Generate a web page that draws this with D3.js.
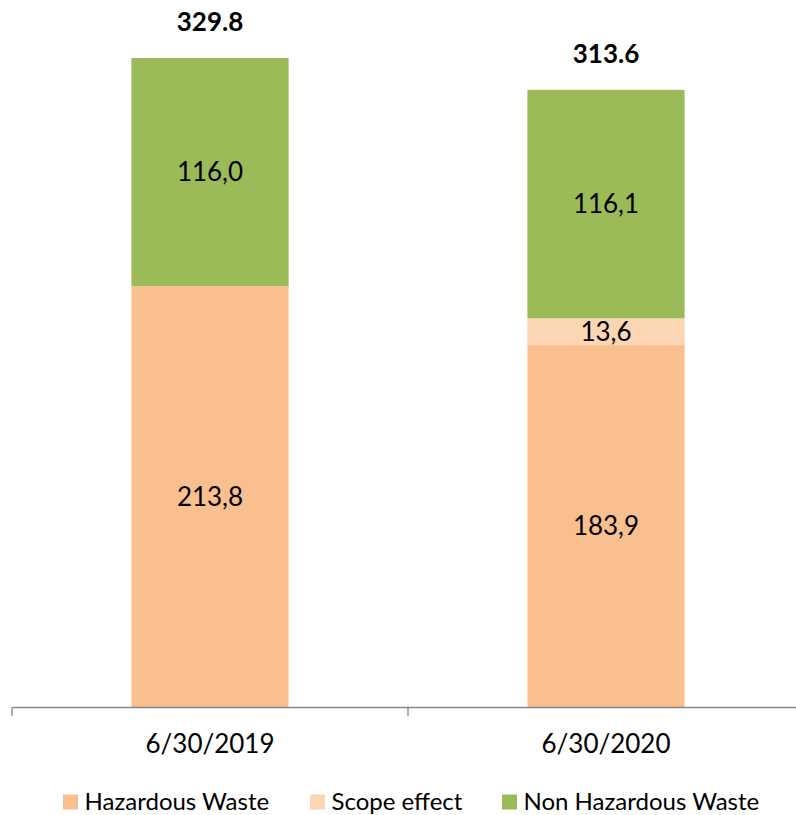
<!DOCTYPE html>
<html>
<head>
<meta charset="utf-8">
<script src="https://cdnjs.cloudflare.com/ajax/libs/d3/7.8.5/d3.min.js"></script>
<style>
  body { margin: 0; background: #fff; }
  text { font-family: Lato, "Open Sans", sans-serif; fill: #000; }
</style>
</head>
<body>
<div id="chart"></div>
<script>
var dates = ["6/30/2019", "6/30/2020"];
var series = ["Hazardous Waste", "Scope effect", "Non Hazardous Waste"];
var hazardous = [213.8, 183.9];
var scope = [0, 13.6];
var nonHazardous = [116.0, 116.1];
var totals = ["329.8", "313.6"];
var labelsHaz = ["213,8", "183,9"];
var labelsScope = ["", "13,6"];
var labelsNon = ["116,0", "116,1"];
var colors = ["#F9BF8F", "#FCD5B5", "#9BBB59"];

var width = 796, height = 815;
var svg = d3.select("#chart").append("svg")
  .attr("width", width).attr("height", height);

var x = d3.scaleBand().domain(dates).range([12, 804]).padding(0);
var y = d3.scaleLinear().domain([0, 350]).range([707, 707 - 350 * 1.968]);
var barW = x.bandwidth() * 0.397;

var stackData = dates.map(function(d, i) {
  return { date: d, haz: hazardous[i], scope: scope[i], non: nonHazardous[i] };
});
var stacked = d3.stack().keys(["haz", "scope", "non"])(stackData);
var labelSets = [labelsHaz, labelsScope, labelsNon];

stacked.forEach(function(layer, k) {
  var g = svg.append("g");
  g.selectAll("rect").data(layer).enter().append("rect")
    .attr("x", function(d) { return x(d.data.date) + x.bandwidth() / 2 - barW / 2; })
    .attr("width", barW)
    .attr("y", function(d) { return y(d[1]); })
    .attr("height", function(d) { return y(d[0]) - y(d[1]); })
    .attr("fill", colors[k]);
  g.selectAll("text").data(layer).enter().append("text")
    .attr("x", function(d) { return x(d.data.date) + x.bandwidth() / 2; })
    .attr("y", function(d) { return (y(d[0]) + y(d[1])) / 2; })
    .attr("dy", "0.35em")
    .attr("text-anchor", "middle")
    .style("font-size", "26px")
    .text(function(d, i) { return labelSets[k][i]; });
});

// totals
svg.append("g").selectAll("text").data(stackData).enter().append("text")
  .attr("x", function(d) { return x(d.date) + x.bandwidth() / 2; })
  .attr("y", function(d) { return y(d.haz + d.scope + d.non) - 36; })
  .attr("dy", "0.35em")
  .attr("text-anchor", "middle")
  .style("font-size", "26px")
  .style("font-weight", "bold")
  .text(function(d, i) { return totals[i]; });

// x axis
var axis = svg.append("g").attr("transform", "translate(0," + y(0) + ")")
  .call(d3.axisBottom(x).tickSize(0).tickPadding(28));
axis.select(".domain").attr("stroke", "#868686").attr("stroke-width", 1.3);
axis.selectAll("text").style("font-size", "26px").style("font-family", "Lato, sans-serif");
axis.selectAll(".tickmark").data([12, 408, 804]).enter().append("line")
  .attr("x1", function(d) { return d; }).attr("x2", function(d) { return d; })
  .attr("y1", 0).attr("y2", 9)
  .attr("stroke", "#868686").attr("stroke-width", 1.3);

// legend
var legX = [63, 310, 502];
var leg = svg.append("g").attr("transform", "translate(0,802)");
series.forEach(function(s, i) {
  leg.append("rect").attr("x", legX[i]).attr("y", -7.5).attr("width", 15).attr("height", 15).attr("fill", colors[i]);
  leg.append("text").attr("x", legX[i] + 21.5).attr("y", 0).attr("dy", "0.35em")
    .style("font-size", "24px").text(s);
});
</script>
</body>
</html>
